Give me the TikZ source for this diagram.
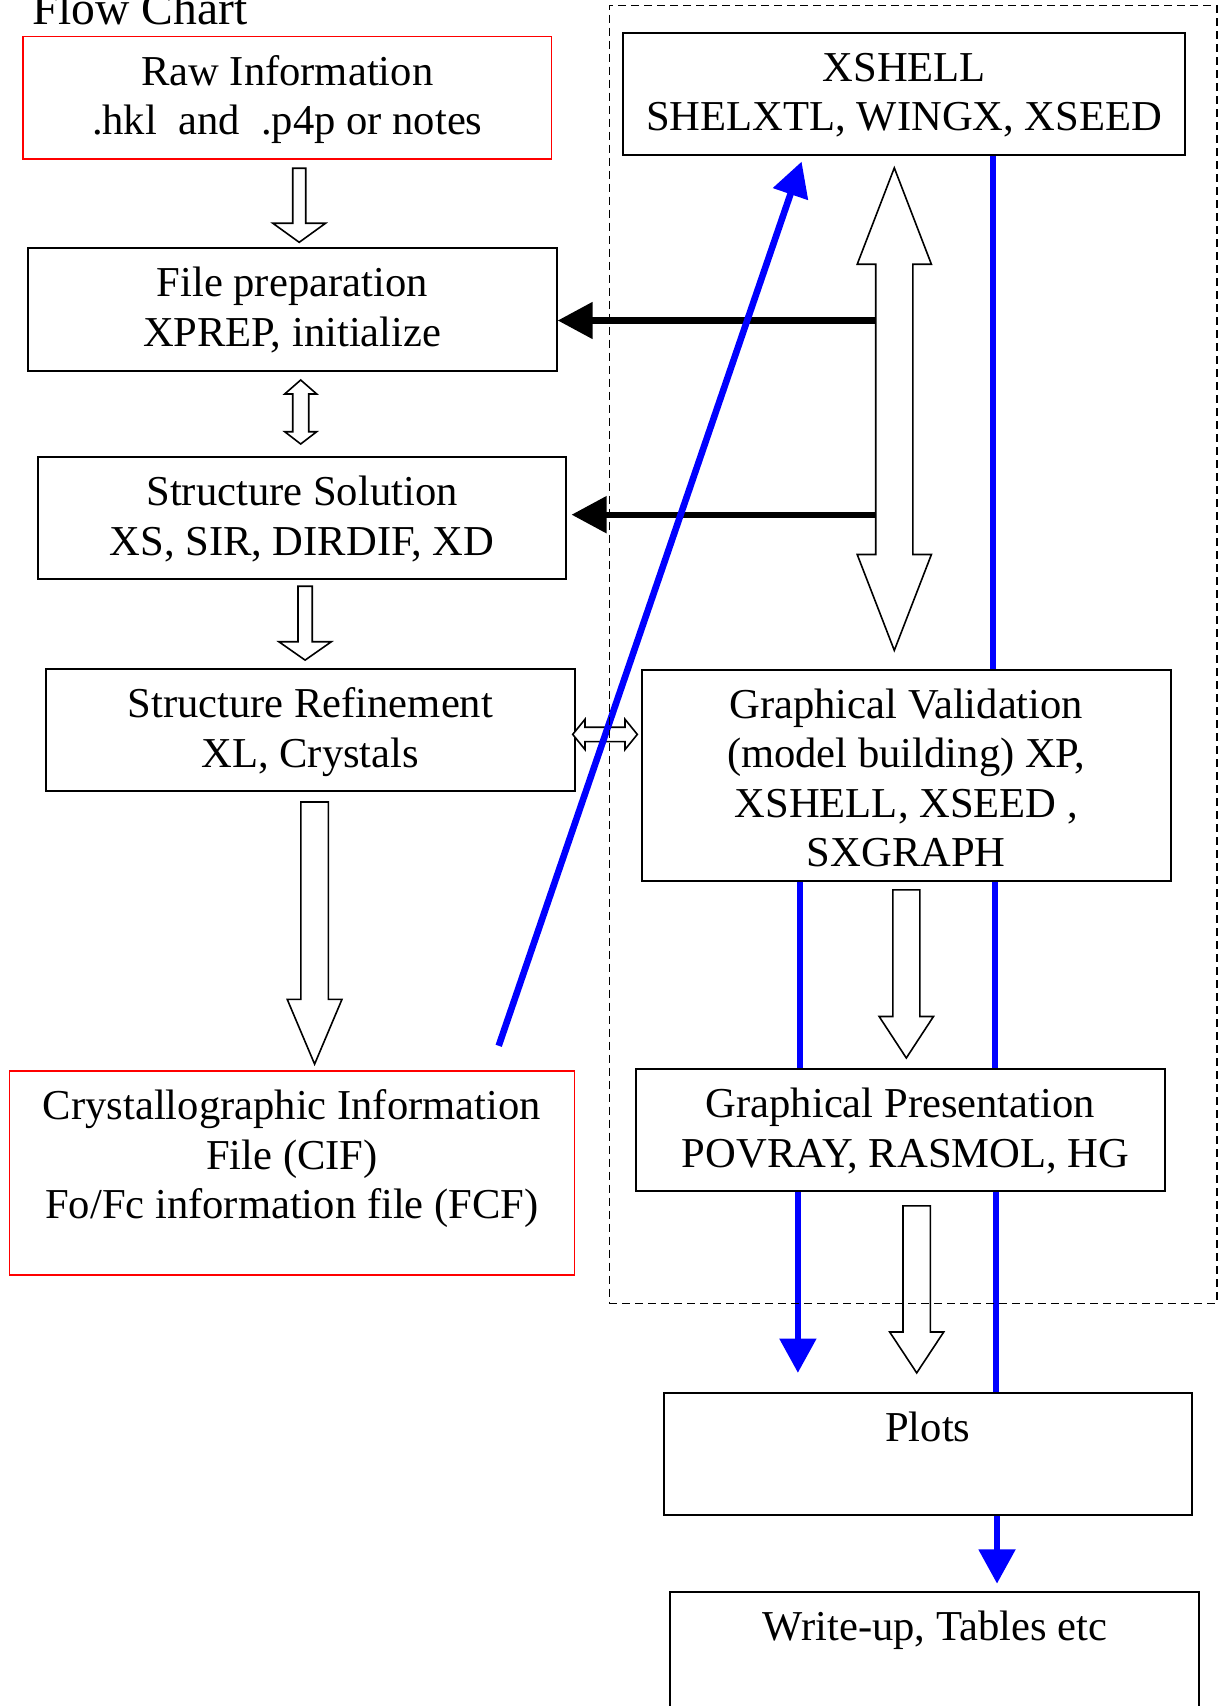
\documentclass[tikz,border=0pt]{standalone}
\usepackage{fontspec}
\setmainfont{Liberation Serif}
\usetikzlibrary{arrows.meta,fit}
\definecolor{pblue}{RGB}{0,0,255}
\definecolor{pred}{RGB}{255,0,0}
% hollow block arrows (drawn as shapes)
\newcommand\blkdown[6]{% cx, top, headbase, tip, shaft, head
 \draw[hollow] ({#1-#5/2},#2) -- ({#1+#5/2},#2) -- ({#1+#5/2},#3) -- ({#1+#6/2},#3) -- (#1,#4) -- ({#1-#6/2},#3) -- ({#1-#5/2},#3) -- cycle;}
\newcommand\blkvdouble[7]{% cx, top, hb1, hb2, bot, shaft, head
 \draw[hollow] (#1,#2) -- ({#1+#7/2},#3) -- ({#1+#6/2},#3) -- ({#1+#6/2},#4) -- ({#1+#7/2},#4) -- (#1,#5) -- ({#1-#7/2},#4) -- ({#1-#6/2},#4) -- ({#1-#6/2},#3) -- ({#1-#7/2},#3) -- cycle;}
\newcommand\blkhdouble[7]{% cy, left, hb1, hb2, right, shaft, head
 \draw[hollow] (#2,#1) -- (#3,{#1-#7/2}) -- (#3,{#1-#6/2}) -- (#4,{#1-#6/2}) -- (#4,{#1-#7/2}) -- (#5,#1) -- (#4,{#1+#7/2}) -- (#4,{#1+#6/2}) -- (#3,{#1+#6/2}) -- (#3,{#1+#7/2}) -- cycle;}
\begin{document}
\begin{tikzpicture}[x=0.5pt,y=-0.5pt,
  box/.style={draw=black, line width=1pt, inner sep=0pt},
  redbox/.style={draw=pred, line width=0.8pt, inner sep=0pt},
  lbl/.style={font=\fontsize{21.3pt}{24.75pt}\selectfont, align=center, inner sep=0pt, anchor=base},
  hollow/.style={draw=black, fill=white, line width=0.8pt, line join=miter},
  bl/.style={draw=pblue, line width=3.3pt},
  blarrow/.style={bl, -{Triangle[length=17.2pt,width=17.8pt]}},
  blkarrow/.style={draw=black, line width=3.2pt, -{Triangle[length=17.5pt,width=17.8pt]}},
  dashbox/.style={draw=black, line width=0.7pt, dash pattern=on 4pt off 2.5pt, inner sep=0pt}
]
\useasboundingbox (0,0) rectangle (1221,1706);

% title
\node[font=\fontsize{23.8pt}{28pt}\selectfont, anchor=base west, inner sep=0pt] (title) at (31.7,25) {Flow Chart};

% left column (label anchor = baseline of last line)
\node[redbox, fit={(22.9,36.7) (551.6,159)}] (raw) {};
\node[lbl] (rawt) at ([yshift=-49.5pt]raw.north) {Raw Information\\.hkl\ \ and\ \ .p4p or notes};

\node[box, fit={(27.7,248.3) (556.7,371.3)}] (fp) {};
\node[lbl] (fpt) at ([yshift=-49.5pt]fp.north) {File preparation\\XPREP, initialize};

\node[box, fit={(37.9,457.2) (566.1,579.1)}] (ss) {};
\node[lbl] (sst) at ([yshift=-49.5pt]ss.north) {Structure Solution\\XS, SIR, DIRDIF, XD};

\node[box, fit={(46,669.3) (574.5,791)}] (sr) {};
\node[lbl] (srt) at ([yshift=-49.5pt]sr.north) {Structure Refinement\\XL, Crystals};

\node[redbox, fit={(9.3,1071) (574.5,1275)}] (cif) {};
\node[lbl] (cift) at ([yshift=-74.25pt]cif.north) {Crystallographic Information\\File (CIF)\\Fo/Fc information file (FCF)};

% right column
\node[box, fit={(623.2,32.8) (1185.2,155.4)}] (xs) {};
\node[lbl] (xst) at ([yshift=-49.5pt]xs.north) {XSHELL\\SHELXTL, WINGX, XSEED};

\node[box, fit={(642,669.5) (1170.6,881)}] (gv) {};
\node[lbl] (gvt) at ([yshift=-99pt]gv.north) {Graphical Validation\\(model building) XP,\\XSHELL, XSEED ,\\SXGRAPH};

\node[box, fit={(636.2,1069.2) (1164.5,1191.3)}] (gp) {};
\node[lbl] (gpt) at ([yshift=-49.5pt]gp.north) {Graphical Presentation\\\hspace*{0.25em}POVRAY, RASMOL, HG};

\node[box, fit={(663.8,1393.2) (1192,1514.8)}] (plots) {};
\node[lbl] (plotst) at ([yshift=-24.75pt]plots.north) {Plots};

\node[box, fit={(670.4,1591.5) (1199.4,1740)}] (wu) {};
\node[lbl] (wut) at ([yshift=-24.75pt]wu.north) {Write-up, Tables etc};

% hollow block arrows
\blkdown{299.2}{168.3}{223.3}{242.3}{13}{52.6}
\blkvdouble{300.7}{380}{394}{431.7}{444}{16}{32}
\blkdown{305.1}{586.2}{641.7}{660.1}{14.3}{52.6}
\blkdown{314.6}{802}{999.4}{1064.1}{27.4}{54.7}
\blkhdouble{734.4}{572.7}{585}{625}{637.3}{14.4}{30.3}
\blkdown{906.3}{889.8}{1016.5}{1058}{27}{54.3}
\blkdown{916.7}{1205.9}{1332}{1372.9}{27.4}{54}

% black arrows from the big double arrow
\coordinate (ba1) at (875.8,320.5);
\coordinate (ba2) at (875.8,514.7);
\draw[blkarrow] (ba1) -- (fp.east |- ba1);
\draw[blkarrow, shorten >=2.2pt] (ba2) -- (ss.east |- ba2);
\blkvdouble{894.3}{167.9}{264.3}{554.5}{650.4}{37.1}{74.2}

% blue connectors
\coordinate (bd1) at (498.7,1045.8);
\coordinate (bd2) at (801.6,161.6);
\draw[blarrow] (bd1) -- (bd2);
\draw[bl] (993,0 |- xs.south) -- (993,0 |- gv.north);
\draw[bl] (800,0 |- gv.south) -- (800,0 |- gp.north);
\draw[bl] (995,0 |- gv.south) -- (995,0 |- gp.north);
\coordinate (bt1) at (797.9,1372.9);
\draw[blarrow] (797.9,0 |- gp.south) -- (bt1);
\draw[bl] (995.8,0 |- gp.south) -- (995.8,0 |- plots.north);
\draw[blarrow, shorten >=3.4pt] (997,0 |- plots.south) -- (997,0 |- wu.north);

% dashed group frame
\node[dashbox, fit={(609.2,5.6) (1216.9,1303.2)}] (grp) {};
\end{tikzpicture}
\end{document}
